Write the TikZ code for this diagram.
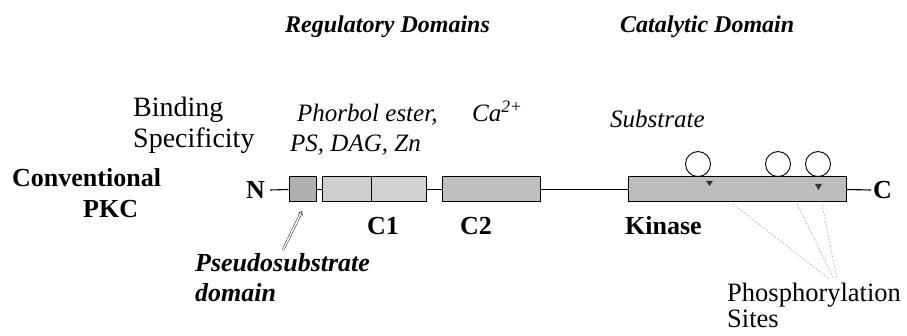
\documentclass[tikz,border=0pt]{standalone}
\usepackage{fontspec}
\setmainfont{Liberation Serif}
\usetikzlibrary{arrows.meta,calc}
\begin{document}
\begin{tikzpicture}[x=1pt,y=-1pt,
  lbl/.style={inner sep=0pt, anchor=base west},
  ttl/.style={lbl, font=\fontsize{24}{27}\selectfont\bfseries\itshape},
  plain/.style={lbl, font=\fontsize{28}{31}\selectfont},
  ital/.style={lbl, font=\fontsize{25}{28}\selectfont\itshape},
  bital/.style={lbl, font=\fontsize{26}{28}\selectfont\bfseries\itshape},
  bold/.style={lbl, font=\fontsize{26}{28}\selectfont\bfseries},
  dom/.style={draw=black, line width=1pt, inner sep=0pt, minimum height=25pt},
  site/.style={draw=black, line width=0.9pt, circle, fill=white, inner sep=0pt, minimum size=25pt},
  chain/.style={line width=1.1pt},
  pmark/.style={fill=black!80, draw=none},
  pline/.style={draw=gray!70, line width=0.5pt, dash pattern=on 2pt off 1.5pt}
]
\useasboundingbox (0,0) rectangle (907,336);

% headings
\node[ttl] (reg) at (285,33) {Regulatory Domains};
\node[ttl] (cat) at (620,33) {Catalytic Domain};

% binding specificities
\node[plain] (bind) at (133,117) {Binding};
\node[plain] (spec) at (133,148) {Specificity};
\node[ital] (phorb) at (297,122) {Phorbol ester,};
\node[ital] (ps) at (290,152) {PS, DAG, Zn};
\node[ital] (ca) at (472,122) {Ca\textsuperscript{2+}};
\node[ital] (subs) at (610,128) {Substrate};

% isoform name
\node[bold] (conv) at (12,187) {Conventional};
\node[bold] (pkc) at (83,218) {PKC};

% domain boxes
\node[dom, fill=gray!62, minimum width=27pt] (psd) at (302.5,189.5) {};
\node[dom, fill=gray!38, minimum width=49pt] (c1a) at (346.5,189.5) {};
\node[dom, fill=gray!35, minimum width=55pt] (c1b) at (398.5,189.5) {};
\node[dom, fill=gray!50, minimum width=98pt] (c2) at (491,189.5) {};
\node[dom, fill=gray!52, minimum width=218pt] (kin) at (737,189.5) {};

% termini
\node[bold, anchor=east, inner sep=0pt] (N) at (265,190) {N};
\node[bold, anchor=west, inner sep=0pt] (C) at (873,190) {C};

% backbone between the domains
\draw[chain] ($(N.east)+(5,0)$) -- (psd.west);
\draw[chain] (psd.east) -- (c1a.west);
\draw[chain] (c1b.east) -- (c2.west);
\draw[chain] (c2.east) -- (kin.west);
\draw[chain] (kin.east) -- ($(C.west)+(-2,0)$);

% phosphorylation sites
\node[site, anchor=south] (p1) at (698,177) {};
\node[site, anchor=south] (p2) at (778,177) {};
\node[site, anchor=south] (p3) at (818,177) {};
\fill[pmark] (706,181) -- (713,181) -- (709.5,186) -- cycle;
\fill[pmark] (815,184) -- (822,184) -- (818.5,190) -- cycle;

% domain labels
\node[bold] (lc1) at (367,235) {C1};
\node[bold] (lc2) at (460,235) {C2};
\node[bold] (lkin) at (625,235) {Kinase};

% pseudosubstrate label and arrow
\node[bital] (pseu) at (195,272) {Pseudosubstrate};
\node[bital] (pdom) at (195,302) {domain};
\coordinate (atail) at (283,250);
\coordinate (ahead) at (302,211);
\draw[line width=0.4pt, double distance=1.6pt, -{Implies[length=4pt]}] (atail) -- (ahead);

% phosphorylation site label and leader lines
\node[plain, font=\fontsize{26.5}{30}\selectfont] (phos) at (727,302) {Phosphorylation};
\node[plain, font=\fontsize{26.5}{30}\selectfont] (sites) at (727,328) {Sites};
\coordinate (s1) at (733,204);
\coordinate (s2) at (797,204);
\coordinate (s3) at (822,204);
\coordinate (t1) at (829,279);
\coordinate (t2) at (834,279);
\coordinate (t3) at (837,279);
\draw[pline] (s1) -- (t1);
\draw[pline] (s2) -- (t2);
\draw[pline] (s3) -- (t3);
\end{tikzpicture}
\end{document}
